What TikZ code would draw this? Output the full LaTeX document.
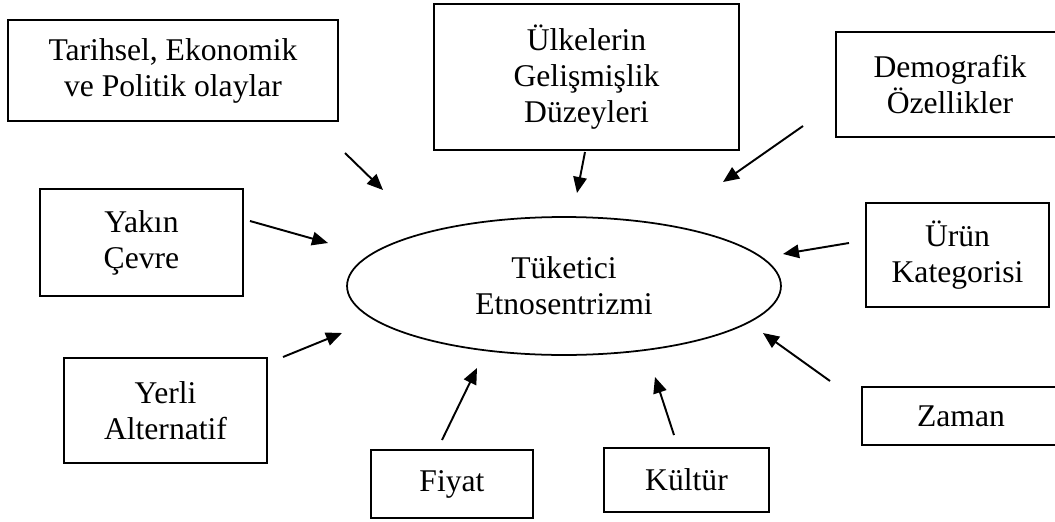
\documentclass[tikz,border=0pt]{standalone}
\usepackage{fontspec}
\setmainfont{Liberation Serif}
\usetikzlibrary{shapes.geometric,arrows.meta}

\begin{document}
\begin{tikzpicture}[x=0.02cm, y=-0.02cm,
    factor/.style={rectangle, draw, line width=1.1pt, inner sep=0pt, align=center,
        font=\fontsize{18}{20.5}\selectfont},
    effect/.style={line width=1.1pt, -{Triangle[length=0.32cm, width=0.27cm]}}]
    \useasboundingbox (0,0) rectangle (1055,521);

    % centre
    \node[ellipse, draw, line width=1pt, minimum width=8.68cm, minimum height=2.76cm, inner sep=0pt,
        align=center, font=\fontsize{18}{20.5}\selectfont] (te) at (564,286) {Tüketici\\Etnosentrizmi};

    % factors
    \node[factor, minimum width=6.6cm, minimum height=2.02cm] (tarihsel) at (173,70.5) {Tarihsel, Ekonomik\\ve Politik olaylar};
    \node[factor, minimum width=6.1cm, minimum height=2.92cm] (ulke) at (586.5,77) {Ülkelerin\\Gelişmişlik\\Düzeyleri};
    \node[factor, minimum width=4.56cm, minimum height=2.1cm] (demo) at (950,84.5) {Demografik\\Özellikler};
    \node[factor, minimum width=4.06cm, minimum height=2.14cm] (yakin) at (141.5,242.5) {Yakın\\Çevre};
    \node[factor, minimum width=3.66cm, minimum height=2.08cm] (urun) at (957.5,255) {Ürün\\Kategorisi};
    \node[factor, minimum width=4.06cm, minimum height=2.1cm] (yerli) at (165.5,410.5) {Yerli\\Alternatif};
    \node[factor, minimum width=3.24cm, minimum height=1.36cm] (fiyat) at (452,484) {Fiyat};
    \node[factor, minimum width=3.3cm, minimum height=1.28cm] (kultur) at (686.5,480) {Kültür};
    \node[factor, minimum width=3.96cm, minimum height=1.16cm] (zaman) at (961,416) {Zaman};

    % arrow ends
    \coordinate (tarihsel-s) at (345,153);  \coordinate (tarihsel-e) at (383,190);
    \coordinate (ulke-s) at (585,152);      \coordinate (ulke-e) at (577,193);
    \coordinate (demo-s) at (803,126);      \coordinate (demo-e) at (723,182);
    \coordinate (yakin-s) at (250,221);     \coordinate (yakin-e) at (328,243);
    \coordinate (urun-s) at (849,243);      \coordinate (urun-e) at (783,254);
    \coordinate (yerli-s) at (283,357);     \coordinate (yerli-e) at (342,333);
    \coordinate (fiyat-s) at (442,440);     \coordinate (fiyat-e) at (477,368);
    \coordinate (kultur-s) at (674,435);    \coordinate (kultur-e) at (655,377);
    \coordinate (zaman-s) at (830,381);     \coordinate (zaman-e) at (763,333);

    % arrows
    \foreach \f in {tarihsel, ulke, demo, yakin, urun, yerli, fiyat, kultur, zaman}
        \draw[effect] (\f-s) -- (\f-e);
\end{tikzpicture}
\end{document}
